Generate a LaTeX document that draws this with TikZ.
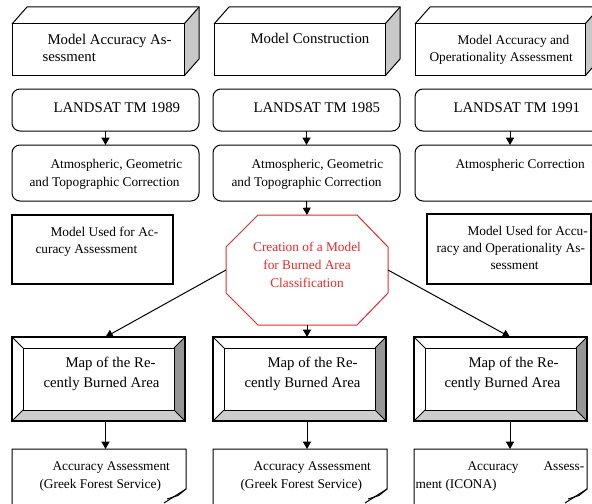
\documentclass[tikz,border=0pt]{standalone}
\usepackage{fontspec}
\setmainfont{Liberation Serif}
\usetikzlibrary{arrows.meta,fit}
\definecolor{octred}{RGB}{238,40,40}
\definecolor{sidegray}{RGB}{200,200,200}
\definecolor{bevdark}{RGB}{150,150,150}
\definecolor{bevlight}{RGB}{205,205,205}
\begin{document}
\begin{tikzpicture}[x=0.75pt,y=-0.75pt,
  frame/.style={inner sep=0pt, outer sep=0pt},
  rbox/.style={frame, draw, rounded corners=6pt, line width=0.75pt},
  thickbox/.style={frame, draw, line width=1.4pt},
  txt/.style={anchor=base west, inner sep=0pt, font=\fontsize{10}{12}\selectfont},
  bigtxt/.style={anchor=base west, inner sep=0pt, font=\fontsize{11.1}{13}\selectfont},
  arr/.style={-{Triangle[length=5.5pt,width=6pt]}, line width=0.75pt},
  line width=0.75pt
]
\clip (0,0) rectangle (592,503);
\fill[white] (0,0) rectangle (592,503);

% ---------- top cuboids ----------
\foreach \xa/\xb/\n in {12/184/t1, 214/385/t2, 415/585/t3}{
  \fill[sidegray] (\xb,24) -- (\xb+15,7) -- (\xb+15,59) -- (\xb,76) -- cycle;
  \draw (\xa,24) -- (\xa+15,7) -- (\xb+15,7) -- (\xb+15,59) -- (\xb,76);
  \draw (\xb,24) -- (\xb+15,7);
  \node[frame, draw, fit={(\xa,24)(\xb,76)}] (\n) {};
}
\node[bigtxt] at (47,45) {Model Accuracy As-};
\node[bigtxt] at (42,62) {sessment};
\node[bigtxt] at (250,44) {Model Construction};
\node[txt] at (457,45) {Model Accuracy and};
\node[txt] at (429,62) {Operationality Assessment};

% ---------- LANDSAT ----------
\node[rbox, fit={(12,89)(199,131)}] (l1) {};
\node[rbox, fit={(213,89)(400,131)}] (l2) {};
\node[rbox, fit={(415,89)(605,131)}] (l3) {};
\node[bigtxt] at (53,112) {LANDSAT TM 1989};
\node[bigtxt] at (253,112) {LANDSAT TM 1985};
\node[bigtxt] at (453,112) {LANDSAT TM 1991};

% ---------- corrections ----------
\node[rbox, fit={(12,145)(199,201)}] (c1) {};
\node[rbox, fit={(213,145)(400,201)}] (c2) {};
\node[rbox, fit={(415,145)(605,201)}] (c3) {};
\node[txt] at (50,168.5) {Atmospheric, Geometric};
\node[txt] at (29,186) {and Topographic Correction};
\node[txt] at (251,168.5) {Atmospheric, Geometric};
\node[txt] at (231,186) {and Topographic Correction};
\node[txt] at (455,168.5) {Atmospheric Correction};

\draw[arr] (l1.south) -- (c1.north);
\draw[arr] (l2.south) -- (c2.north);
\draw[arr] (l3.south) -- (c3.north);

% ---------- model used ----------
\node[thickbox, fit={(12,215)(173,284)}] (u1) {};
\node[thickbox, fit={(427,214)(591,284)}] (u3) {};
\node[txt] at (50,236.5) {Model Used for Ac-};
\node[txt] at (35,253) {curacy Assessment};
\node[txt] at (467,235) {Model Used for Accu-};
\node[txt] at (436,252) {racy and Operationality As-};
\node[txt] at (490,269) {sessment};

% ---------- octagon ----------
\draw[octred] (258,215) -- (357,215) -- (388,247) -- (388,293) -- (357,325)
  -- (258,325) -- (226,293) -- (226,247) -- cycle;
\node[frame, fit={(226,215)(388,325)}] (oct) {};
\node[align=center, text=octred, inner sep=0pt, font=\fontsize{10}{13.5}\selectfont]
  at (307,265) {Creation of a Model\\for Burned Area\\Classification};
\draw[arr] (c2.south) -- (oct.north);

% ---------- maps ----------
\foreach \xa/\xb/\n in {12/185/m1, 213/386/m2, 414/587/m3}{
  \fill[bevdark] (\xb,337) -- (\xb,421) -- (\xb-11,410) -- (\xb-11,348) -- cycle;
  \fill[bevlight] (\xa,421) -- (\xb,421) -- (\xb-11,410) -- (\xa+11,410) -- cycle;
  \draw (\xa+11,348) rectangle (\xb-11,410);
  \draw (\xa,337) -- (\xa+11,348) (\xb,337) -- (\xb-11,348)
        (\xa,421) -- (\xa+11,410) (\xb,421) -- (\xb-11,410);
  \node[frame, draw, line width=1pt, fit={(\xa,337)(\xb,421)}] (\n) {};
}
\node[bigtxt] at (65,367) {Map of the Re-};
\node[bigtxt] at (43,387) {cently Burned Area};
\node[bigtxt] at (267,367) {Map of the Re-};
\node[bigtxt] at (244,387) {cently Burned Area};
\node[bigtxt] at (468,367) {Map of the Re-};
\node[bigtxt] at (444,387) {cently Burned Area};

\draw[arr] (oct.west) -- (m1.north -| l1.south);
\draw[arr] (oct.south) -- (m2.north -| oct.south);
\draw[arr] (oct.east) -- (m3.north -| l3.south);

% ---------- documents ----------
\foreach \xa/\xb/\n in {12/186/d1, 213/387/d2, 414/587/d3}{
  \node[frame, fit={(\xa,449)(\xb,510)}] (\n) {};
  \draw (\xa,510) -- (\xa,449) -- (\xb,449) -- (\xb,489) -- (\xb-22,503);
  \draw (\xb-19,499) -- (\xb-8,495.5) -- (\xb,489);
}
\node[txt] at (52,470) {Accuracy Assessment};
\node[txt] at (39,488.5) {(Greek Forest Service)};
\node[txt] at (253,470) {Accuracy Assessment};
\node[txt] at (240,488.5) {(Greek Forest Service)};
\node[txt] at (467,470) {Accuracy};
\node[txt] at (543,470) {Assess-};
\node[txt] at (415,488.5) {ment (ICONA)};

\draw[arr] (m1.south -| l1.south) -- (d1.north -| l1.south);
\draw[arr] (m2.south -| oct.south) -- (d2.north -| oct.south);
\draw[arr] (m3.south -| l3.south) -- (d3.north -| l3.south);
\end{tikzpicture}
\end{document}
